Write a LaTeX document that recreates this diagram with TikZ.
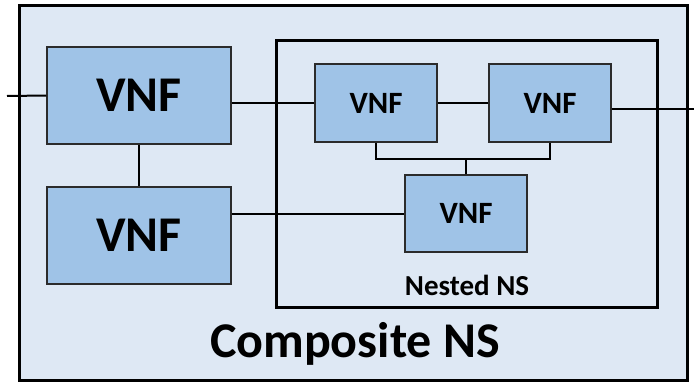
\documentclass[tikz,border=0pt]{standalone}
\usepackage{fontspec}
\setmainfont{Carlito}
\definecolor{outerfill}{HTML}{DEE8F4}
\definecolor{vnffill}{HTML}{9FC3E7}
\definecolor{edgegrey}{HTML}{2B2B2B}
\begin{document}
\begin{tikzpicture}[x=1pt,y=-1pt,
  vnfbig/.style={draw=edgegrey,fill=vnffill,line width=1.5pt,inner sep=0pt,
    minimum width=184pt,minimum height=97pt,font=\bfseries\fontsize{50}{50}\selectfont},
  vnfsmall/.style={draw=edgegrey,fill=vnffill,line width=1.5pt,inner sep=0pt,
    minimum width=122pt,minimum height=78pt,font=\bfseries\fontsize{31}{31}\selectfont},
  link/.style={line width=2pt,black},
  frame/.style={line width=3pt,black}]
\useasboundingbox (0,0) rectangle (694,383);
\fill[white] (0,0) rectangle (694,383);
\draw[frame,fill=outerfill] (19,5) rectangle (687,380);
\draw[frame] (276,40) rectangle (657,307);
\node[vnfbig] (v1) at (139,95.5) {VNF};
\node[vnfbig] (v2) at (139,235.5) {VNF};
\node[vnfsmall] (va) at (376,103) {VNF};
\node[vnfsmall] (vb) at (550,103) {VNF};
\node[vnfsmall,minimum height=77pt] (vc) at (466,213.5) {VNF};
\node[font=\bfseries\fontsize{29}{29}\selectfont] (nested) at (467,285) {Nested NS};
\node[font=\bfseries\fontsize{50}{50}\selectfont] (composite) at (355,344) {Composite NS};
\coordinate (in) at (7,96);
\coordinate (out) at (694,109);
\coordinate (junc) at (466,159);
\draw[link] (in) -- (v1.west);
\draw[link] (v1.south) -- (v2.north);
\draw[link] (v1.east |- va.west) -- (va.west);
\draw[link] (v2.east |- vc.west) -- (vc.west);
\draw[link] (va.east) -- (vb.east -| vb.west);
\draw[link] (vb.east |- out) -- (out);
\draw[link] (va.south) |- (junc) -| (vb.south);
\draw[link] (vc.north) -- (junc);
\end{tikzpicture}
\end{document}
